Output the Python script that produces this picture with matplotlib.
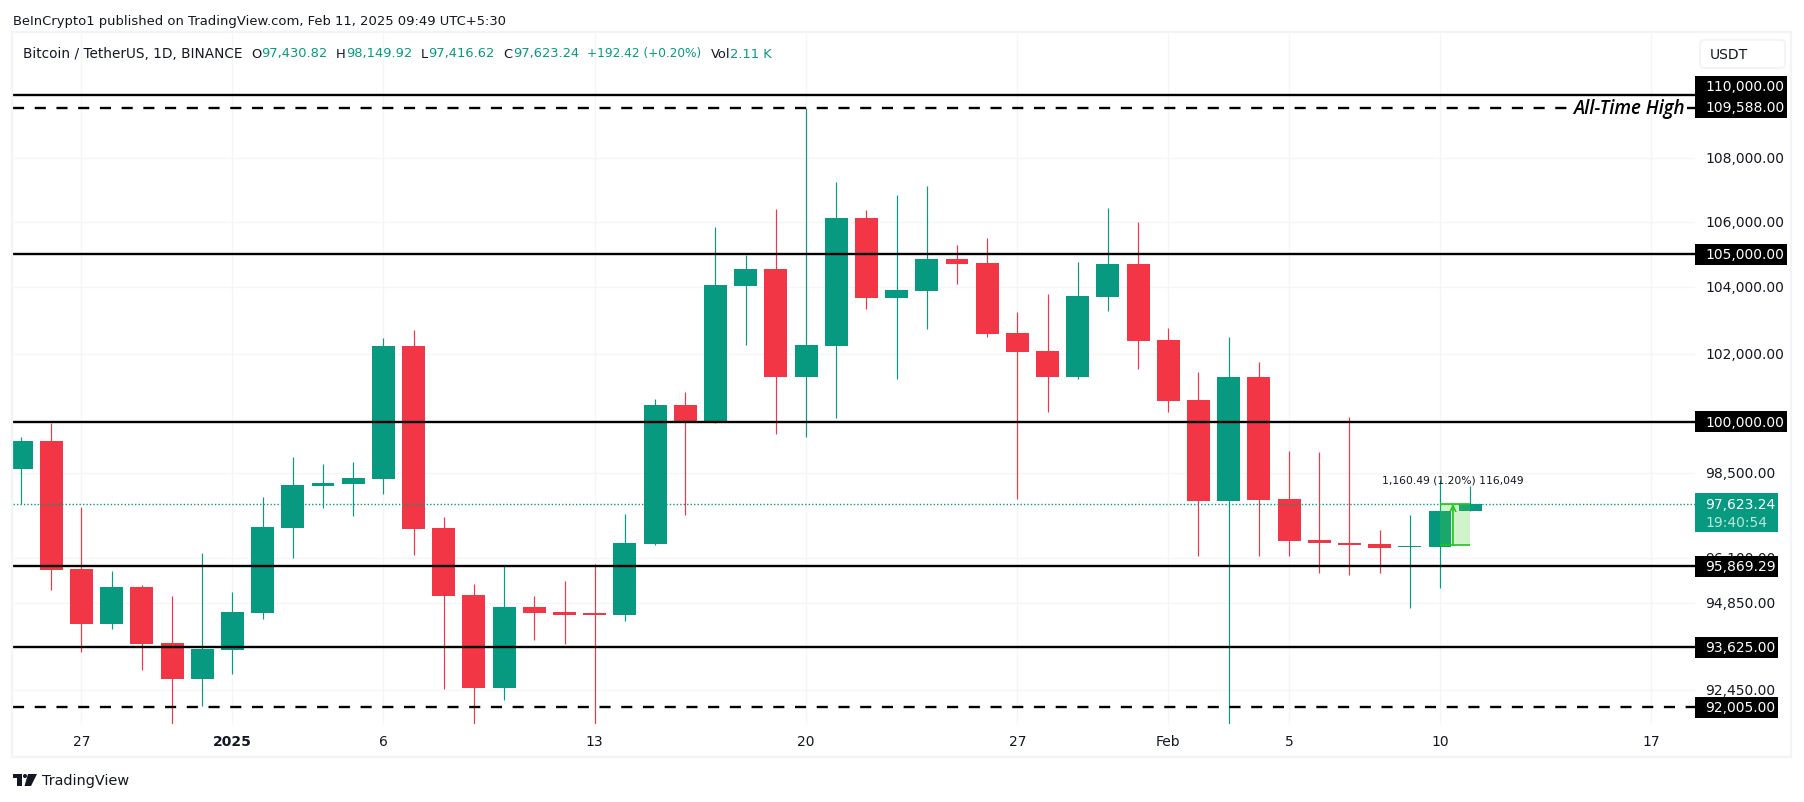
import matplotlib
matplotlib.use("Agg")
import matplotlib.pyplot as plt
import matplotlib.dates as mdates
from matplotlib.patches import Rectangle, FancyBboxPatch, Polygon, Circle
import numpy as np
import pandas as pd

# ---------- data ----------
first_day = "2024-12-25"
opens = [98620,99430,95790,94260,95290,93740,92760,93550,94570,96940,98140,98190,98340,102230,96940,95060,92520,94730,94590,94560,94510,96490,100480,100000,104030,104540,101310,102230,106120,103680,103880,104870,104750,102610,102080,101310,103700,104720,102410,100630,97700,101310,97760,96610,96520,96490,96400,96400,97430.82]
highs = [99550,99965,97540,95730,95340,95030,96240,95150,97820,98960,98770,98830,102470,102710,97250,95370,95870,95030,95450,95930,97330,100650,100860,105840,104980,106410,109590,107240,106370,106830,107110,105290,105500,103240,103790,104780,106440,106000,102760,101450,102500,101750,99140,99110,100130,96880,97310,98310,98149.92]
lows = [97620,95200,93500,94130,93000,91560,92030,92890,94400,96100,97510,97280,97910,96180,92500,91560,92190,93820,93710,91560,94340,96460,97300,99950,102260,99640,99550,100100,103340,101250,102730,104090,102500,97760,100280,101250,103270,101550,100280,96160,91560,96160,96160,95680,95620,95680,94700,95260,97416.62]
closes = [99430,95760,94260,95290,93710,92760,93580,94590,96970,98170,98220,98370,102230,96910,95030,92520,94730,94560,94510,94510,96520,100480,100000,104060,104540,101310,102260,106120,103680,103910,104870,104720,102590,102050,101310,103730,104720,102380,100600,97700,101310,97730,96580,96520,96460,96380,96430,97420,97623.24]

solid_levels = [110000, 105000, 100000, 95869.29, 93625]
dashed_levels = [109588, 92005]
grid_prices = [108000, 106000, 104000, 102000, 98500, 96100, 94850, 92450]
tick_dates = ["2024-12-27","2025-01-01","2025-01-06","2025-01-13","2025-01-20","2025-01-27","2025-02-01","2025-02-05","2025-02-10","2025-02-17"]
tick_labels = ["27","2025","6","13","20","27","Feb","5","10","17"]
last_price = 97623.24
countdown = "19:40:54"
tool_low = 96462.75
tool_dates = ["2025-02-10","2025-02-11"]
tool_text = "1,160.49 (1.20%) 116,049"

GREEN="#089981"; RED="#f23645"; INK="#131722"; GRID="#f4f5f7"; FRAME="#f3f4f7"
FONT="DejaVu Sans"
plt.rcParams["font.family"]=FONT

W,H=1804,803
fig=plt.figure(figsize=(W/100,H/100),dpi=100,facecolor="white")
L,R,T,B=12.6,1694.5,35.0,724.5
ax=fig.add_axes([L/W,1-B/H,(R-L)/W,(B-T)/H])
ax.set_yscale("log")
x0=mdates.date2num(pd.Timestamp("2024-12-27"))
ax.set_xlim(x0-2.282,x0+53.43)
ax.set_ylim(91563,111976)
for s in ax.spines.values(): s.set_visible(False)
ax.minorticks_off()
ax.tick_params(which="both",length=0,labelleft=False,labelbottom=False)
ax.set_yticks([])

days=mdates.date2num(pd.date_range(first_day,periods=len(opens)))
ax.set_xticks(mdates.date2num(pd.to_datetime(tick_dates)))
ax.grid(True,axis="x",color=GRID,lw=0.9,zorder=0)
ax.hlines(grid_prices,*ax.get_xlim(),color=GRID,lw=0.9,zorder=0)

o,h,l,c=map(np.array,(opens,highs,lows,closes))
colors=[GREEN if a>=b else RED for a,b in zip(c,o)]
ax.vlines(days,l,h,colors=colors,lw=0.85,zorder=2)
ax.bar(days,np.abs(c-o),width=0.76,bottom=np.minimum(o,c),color=colors,lw=0,zorder=3)

ax.axhline(last_price,color=GREEN,lw=1,ls=(0,(1,1.5)),zorder=4)
for v in solid_levels: ax.axhline(v,color="black",lw=1.7,zorder=5)
for v in dashed_levels: ax.axhline(v,color="black",lw=1.7,ls=(0,(4.7,4.5)),zorder=5)

# long-position tool
t0,t1=mdates.date2num(pd.to_datetime(tool_dates))
ax.fill_between([t0,t1],tool_low,last_price,color="#4cd137",alpha=0.26,lw=0,zorder=6)
ax.hlines([tool_low,last_price],t0,t1,color="#22c51e",lw=1.2,zorder=6)
xm=(t0+t1)/2-0.07
ax.annotate("",xy=(xm,last_price),xytext=(xm,tool_low),zorder=6,
            arrowprops=dict(arrowstyle="->",color="#22c51e",lw=1.2,shrinkA=0,shrinkB=0))
ax.text(xm,98310,tool_text,ha="center",va="center",fontsize=7.75,color=INK,zorder=7)

# overlay in pixel coordinates for the chrome
ov=fig.add_axes([0,0,1,1],facecolor="none")
ov.set_xlim(0,W); ov.set_ylim(H,0); ov.axis("off")
def ypx(p): return H-ax.transData.transform((x0,p))[1]
def xpx(d): return ax.transData.transform((d,100000))[0]

# frame
ov.add_patch(Rectangle((12,33),1779,725,fc="none",ec=FRAME,lw=1.6))

# top text
ov.text(13,21,"BeInCrypto1 published on TradingView.com, Feb 11, 2025 09:49 UTC+5:30",fontsize=9.45,color=INK,va="center")
LEG=9.4
ov.text(23,54,"Bitcoin / TetherUS, 1D, BINANCE",fontsize=9.8,color=INK,va="center")
pieces=[(251,"O",INK,LEG),(261,"97,430.82",GREEN,LEG),(336,"H",INK,LEG),(346,"98,149.92",GREEN,LEG),(421,"L",INK,LEG),(428,"97,416.62",GREEN,LEG),
        (503,"C",INK,LEG),(513,"97,623.24",GREEN,LEG),(587,"+192.42 (+0.20%)",GREEN,8.75),(711,"Vol",INK,LEG),(730,"2.11 K",GREEN,LEG)]
for x,s,col,fs in pieces: ov.text(x,54,s,fontsize=fs,color=col,va="center")

# price axis
AX=10.0
for p in grid_prices:
    ov.text(1705,ypx(p),f"{p:,.2f}",fontsize=AX,color=INK,va="center",zorder=3)
ov.add_patch(FancyBboxPatch((1700,41),85,28,boxstyle="round,pad=0,rounding_size=4",fc="white",ec=FRAME,lw=1.4))
ov.text(1710,55,"USDT",fontsize=AX,color=INK,va="center")

def tag(p,right,top=None,bot=None,ytext=None):
    yc=ypx(p)
    ov.add_patch(Rectangle((1695,yc-10.5 if top is None else top),right-1695,21 if top is None else bot-top,fc="black",ec="none",zorder=5))
    ov.text(1705,yc if ytext is None else ytext,f"{p:,.2f}",fontsize=AX,color="white",va="center",zorder=6)
tag(110000,1787,77,119,87)
tag(109588,1787,77,119,108.5)
tag(105000,1787); tag(100000,1787)
tag(95869.29,1777.5); tag(93625,1777.5); tag(92005,1777.5)
yc=ypx(last_price)
ov.add_patch(Rectangle((1695,yc-10.5),82.5,39,fc=GREEN,ec="none",zorder=5))
ov.text(1705,yc,f"{last_price:,.2f}",fontsize=AX,color="white",va="center",zorder=6)
ov.text(1705,yc+18,countdown,fontsize=AX,color="#b9e6dc",va="center",zorder=6)

ya=ypx(109588)
ov.add_patch(Rectangle((1570,ya-3),117,6,fc="white",ec="none",zorder=6))
ov.text(1685,ya,"All-Time High",family="Open Sans",fontsize=13.5,style="italic",weight="semibold",color="black",ha="right",va="center",zorder=7)

# date labels
for d,s in zip(tick_dates,tick_labels):
    ov.text(xpx(mdates.date2num(pd.Timestamp(d))),742.5,s,fontsize=AX,color=INK,ha="center",va="center",
            weight="bold" if s=="2025" else "normal")

# logo
ov.add_patch(Rectangle((13,775),9,3.6,fc=INK,ec="none"))
ov.add_patch(Rectangle((17,775),4.8,12,fc=INK,ec="none"))
ov.add_patch(Circle((25,777),2,fc=INK,ec="none"))
ov.add_patch(Polygon([[28,775],[37,775],[31,787],[24.5,787]],fc=INK,ec="none"))
ov.text(42,781.5,"TradingView",fontsize=10.4,color=INK,va="center")

fig.savefig("out.png",dpi=100)
